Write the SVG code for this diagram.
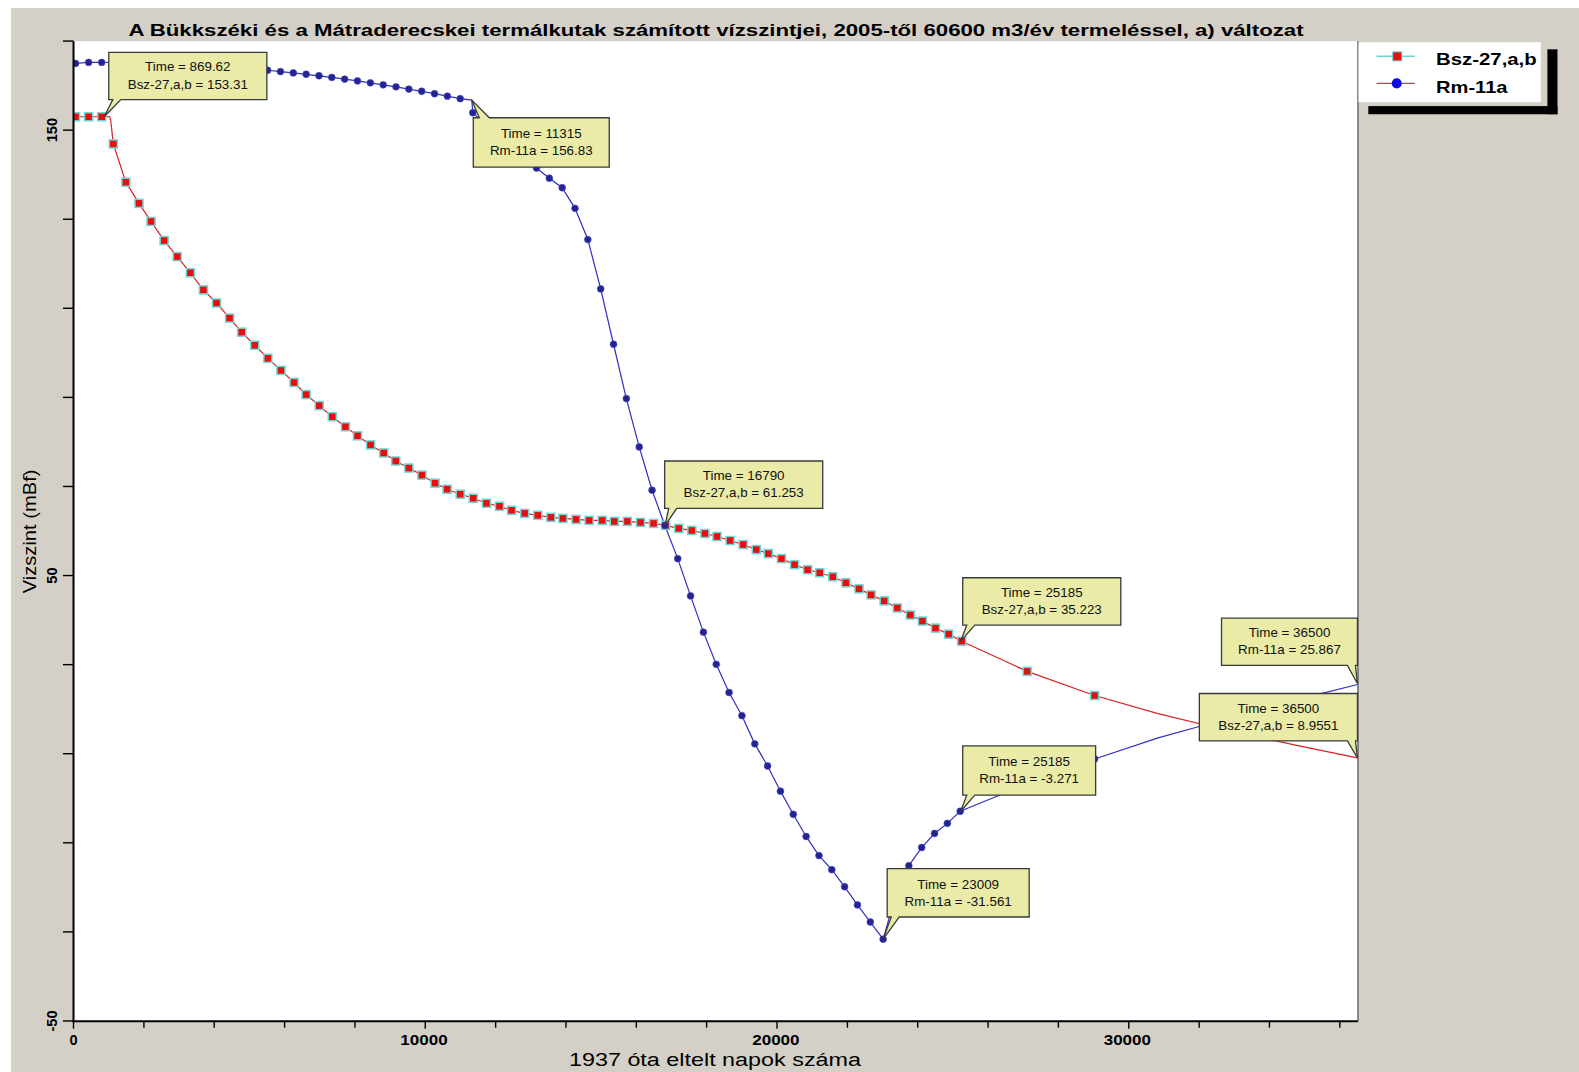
<svg xmlns="http://www.w3.org/2000/svg" width="1579" height="1072" viewBox="0 0 1579 1072">
<style>
.ax{stroke:#000;stroke-width:2;fill:none}
.tk{stroke:#000;stroke-width:1.4}
.tl{font-family:"Liberation Sans",Arial,sans-serif;font-size:14.5px;font-weight:bold;fill:#000}
.tip{fill:#e9eba6;stroke:#3a3a3a;stroke-width:1.3}
.tt{font-family:"Liberation Sans",Arial,sans-serif;font-size:13.3px;fill:#111;text-anchor:middle}
.lg{font-family:"Liberation Sans",Arial,sans-serif;font-size:16px;font-weight:bold;fill:#000}
.red{fill:none;stroke:#d42424;stroke-width:1.2}
.blue{fill:none;stroke:#3030c0;stroke-width:1.2}
.rm{fill:none;stroke:none;marker-start:url(#sq);marker-mid:url(#sq);marker-end:url(#sq)}
.bm{fill:none;stroke:none;marker-start:url(#dot);marker-mid:url(#dot);marker-end:url(#dot)}
</style>
<defs>
<marker id="sq" markerUnits="userSpaceOnUse" markerWidth="12" markerHeight="12" refX="6" refY="6" overflow="visible">
<rect x="2" y="2" width="8" height="8" fill="#e60f0f" stroke="#72d6d6" stroke-width="1.5"/>
</marker>
<marker id="dot" markerUnits="userSpaceOnUse" markerWidth="10" markerHeight="10" refX="5" refY="5" overflow="visible">
<circle cx="5" cy="5" r="3.4" fill="#24248f" stroke="#4a4ad0" stroke-width="0.6"/>
</marker>
<clipPath id="plotclip"><rect x="73" y="41" width="1275.5" height="973.5"/></clipPath>
</defs>
<rect x="0" y="0" width="1579" height="1072" fill="#ffffff"/>
<g transform="scale(1.00702 1.00657)">
<rect x="11" y="8" width="1570" height="1070" fill="#d4d0c8"/>
<rect id="plot-area" x="73" y="41" width="1275.5" height="973.5" fill="#ffffff"/>
<text x="711" y="36" text-anchor="middle" font-family="'Liberation Sans',Arial,sans-serif" font-size="17" font-weight="bold" textLength="1167" lengthAdjust="spacingAndGlyphs">A Bükkszéki és a Mátraderecskei termálkutak számított vízszintjei, 2005-től 60600 m3/év termeléssel, a) változat</text>

<g id="series" clip-path="url(#plotclip)">
<polyline id="bsz-line" class="red" points="73,116 75,116 88,116 101,116 109,116 110,120 112.5,143 125,181 138,202 150,220 163,239 176,255 189,271 202,288 215,301 228,316 240,330 253,343 266,356 279,368 292,380 304,392 317,403 330,414 343,424 355,433 368,442 381,450 393,458 406,465 419,472 432,480 444,486 457,491 470,495 483,500 496,503 508,507 521,510 534,512 547,514 559,515 572,516 585,517 598,517 610,518 623,518 636,519 649,520 661,522 674,525 687,527 700,530 712,533 725,537 738,541 751,546 763,550 776,555 789,561 802,566 814,569 827,573 840,579 853,585 865,591 878,597 891,604 904,611 916,617 929,624 942,630 955,637 1020,667 1087,691 1150,709 1220,726 1290,741 1348,753"/>
<polyline id="rm-line" class="blue" points="73,63 75,63 88,62 101,62 114,62.1 127,62.2 140,62.5 152,62.8 165,63.2 178,63.7 190,64.4 203,65.1 216,65.8 228,66.7 241,67.7 254,68.8 265.75,69.8 278.5,71.1 291.25,72.4 304,73.8 316.75,75.3 329.5,76.9 342.25,78.6 355,80.4 367.75,82.3 380.5,84.3 393.25,86.3 406,88.5 418.75,90.7 431.5,93.1 444.25,95.5 457,98 468.5,99.5 469.5,112 481.75,123 494.5,134 507.25,145 520,156 532.75,167 545.5,177 558.25,186.5 571,207 583.75,238 596.5,287 609.25,342 622,396 634.75,444 647.5,487 660.25,522 673,555 685.75,592 698.5,628 711.25,660 724,688 736.75,711 749.5,739 762.25,761 775,786 787.75,809 800.5,831 813.25,850 826,864 838.75,881 851.5,899 864.25,916 877,933 889.75,888 902.5,860 915.25,842 928,828 940.75,818 953.5,806 990,791 1020,780 1087,754 1150,733 1190,722 1250,705 1300,692 1348,680"/>
<polyline id="bsz-markers" class="rm" points="75,116 88,116 101,116 112.5,143 125,181 138,202 150,220 163,239 176,255 189,271 202,288 215,301 228,316 240,330 253,343 266,356 279,368 292,380 304,392 317,403 330,414 343,424 355,433 368,442 381,450 393,458 406,465 419,472 432,480 444,486 457,491 470,495 483,500 496,503 508,507 521,510 534,512 547,514 559,515 572,516 585,517 598,517 610,518 623,518 636,519 649,520 661,522 674,525 687,527 700,530 712,533 725,537 738,541 751,546 763,550 776,555 789,561 802,566 814,569 827,573 840,579 853,585 865,591 878,597 891,604 904,611 916,617 929,624 942,630 955,637 1020,667 1087,691"/>
<polyline id="rm-markers" class="bm" points="75,63 88,62 101,62 114,62.1 127,62.2 140,62.5 152,62.8 165,63.2 178,63.7 190,64.4 203,65.1 216,65.8 228,66.7 241,67.7 254,68.8 265.75,69.8 278.5,71.1 291.25,72.4 304,73.8 316.75,75.3 329.5,76.9 342.25,78.6 355,80.4 367.75,82.3 380.5,84.3 393.25,86.3 406,88.5 418.75,90.7 431.5,93.1 444.25,95.5 457,98 469.5,112 481.75,123 494.5,134 507.25,145 520,156 532.75,167 545.5,177 558.25,186.5 571,207 583.75,238 596.5,287 609.25,342 622,396 634.75,444 647.5,487 660.25,522 673,555 685.75,592 698.5,628 711.25,660 724,688 736.75,711 749.5,739 762.25,761 775,786 787.75,809 800.5,831 813.25,850 826,864 838.75,881 851.5,899 864.25,916 877,933 889.75,888 902.5,860 915.25,842 928,828 940.75,818 953.5,806 1020,780 1087,754"/>
</g>

<g id="axes">
<line class="ax" x1="73" y1="41" x2="73" y2="1015.5"/>
<line class="ax" x1="72" y1="1014.5" x2="1348.5" y2="1014.5"/>
<line x1="1348.5" y1="41" x2="1348.5" y2="1015" stroke="#4a4a4a" stroke-width="1.2"/>
<g id="y-ticks">
<line class="tk" x1="62.5" y1="40.8" x2="73" y2="40.8"/>
<line class="tk" x1="62.5" y1="129.3" x2="73" y2="129.3"/>
<line class="tk" x1="62.5" y1="217.8" x2="73" y2="217.8"/>
<line class="tk" x1="62.5" y1="306.3" x2="73" y2="306.3"/>
<line class="tk" x1="62.5" y1="394.8" x2="73" y2="394.8"/>
<line class="tk" x1="62.5" y1="483.3" x2="73" y2="483.3"/>
<line class="tk" x1="62.5" y1="571.8" x2="73" y2="571.8"/>
<line class="tk" x1="62.5" y1="660.3" x2="73" y2="660.3"/>
<line class="tk" x1="62.5" y1="748.8" x2="73" y2="748.8"/>
<line class="tk" x1="62.5" y1="837.3" x2="73" y2="837.3"/>
<line class="tk" x1="62.5" y1="925.8" x2="73" y2="925.8"/>
<line class="tk" x1="62.5" y1="1014.3" x2="73" y2="1014.3"/>
</g>
<g id="x-ticks">
<line class="tk" x1="73" y1="1014.5" x2="73" y2="1022"/>
<line class="tk" x1="142.9" y1="1014.5" x2="142.9" y2="1021"/>
<line class="tk" x1="212.7" y1="1014.5" x2="212.7" y2="1021"/>
<line class="tk" x1="282.6" y1="1014.5" x2="282.6" y2="1021"/>
<line class="tk" x1="352.5" y1="1014.5" x2="352.5" y2="1021"/>
<line class="tk" x1="422.3" y1="1014.5" x2="422.3" y2="1022"/>
<line class="tk" x1="492.2" y1="1014.5" x2="492.2" y2="1021"/>
<line class="tk" x1="562" y1="1014.5" x2="562" y2="1021"/>
<line class="tk" x1="631.9" y1="1014.5" x2="631.9" y2="1021"/>
<line class="tk" x1="701.7" y1="1014.5" x2="701.7" y2="1021"/>
<line class="tk" x1="771.6" y1="1014.5" x2="771.6" y2="1022"/>
<line class="tk" x1="841.5" y1="1014.5" x2="841.5" y2="1021"/>
<line class="tk" x1="911.3" y1="1014.5" x2="911.3" y2="1021"/>
<line class="tk" x1="981.2" y1="1014.5" x2="981.2" y2="1021"/>
<line class="tk" x1="1051" y1="1014.5" x2="1051" y2="1021"/>
<line class="tk" x1="1120.9" y1="1014.5" x2="1120.9" y2="1022"/>
<line class="tk" x1="1190.8" y1="1014.5" x2="1190.8" y2="1021"/>
<line class="tk" x1="1260.6" y1="1014.5" x2="1260.6" y2="1021"/>
<line class="tk" x1="1330.5" y1="1014.5" x2="1330.5" y2="1021"/>
</g>
<text class="tl" transform="translate(56.5,129.3) rotate(-90)" text-anchor="middle">150</text>
<text class="tl" transform="translate(56.5,571.8) rotate(-90)" text-anchor="middle">50</text>
<text class="tl" transform="translate(56.5,1014.3) rotate(-90)" text-anchor="middle">-50</text>
<text class="tl" x="73" y="1038" text-anchor="middle">0</text>
<text class="tl" x="421" y="1038" text-anchor="middle" textLength="47" lengthAdjust="spacingAndGlyphs">10000</text>
<text class="tl" x="770.5" y="1038" text-anchor="middle" textLength="47" lengthAdjust="spacingAndGlyphs">20000</text>
<text class="tl" x="1119.5" y="1038" text-anchor="middle" textLength="47" lengthAdjust="spacingAndGlyphs">30000</text>
<text transform="translate(36,528) rotate(-90)" text-anchor="middle" font-family="'Liberation Sans',Arial,sans-serif" font-size="18" fill="#000" textLength="123" lengthAdjust="spacingAndGlyphs">Vizszint (mBf)</text>
<text x="710" y="1059" text-anchor="middle" font-family="'Liberation Sans',Arial,sans-serif" font-size="19" fill="#000" textLength="290" lengthAdjust="spacingAndGlyphs">1937 óta eltelt napok száma</text>
</g>

<g id="tooltips">
<g id="tip-1">
<path class="tip" d="M108,52 H265 V99 H120 L103.5,116 L112,99 H108 Z"/>
<text class="tt" x="186.5" y="71">Time = 869.62</text>
<text class="tt" x="186.5" y="88">Bsz-27,a,b = 153.31</text>
</g>
<g id="tip-2">
<path class="tip" d="M470,117 H476 L468.5,99.5 L486,117 H605 V166 H470 Z"/>
<text class="tt" x="537.5" y="137">Time = 11315</text>
<text class="tt" x="537.5" y="154">Rm-11a = 156.83</text>
</g>
<g id="tip-3">
<path class="tip" d="M660,458 H817 V505 H672 L660.5,522 L664,505 H660 Z"/>
<text class="tt" x="738.5" y="477">Time = 16790</text>
<text class="tt" x="738.5" y="494">Bsz-27,a,b = 61.253</text>
</g>
<g id="tip-4">
<path class="tip" d="M956,574 H1113 V621 H968 L954,637 L960,621 H956 Z"/>
<text class="tt" x="1034.5" y="593">Time = 25185</text>
<text class="tt" x="1034.5" y="610">Bsz-27,a,b = 35.223</text>
</g>
<g id="tip-5">
<path class="tip" d="M1213,614 H1348 V661 H1346 L1348,679 L1338,661 H1213 Z"/>
<text class="tt" x="1280.5" y="633">Time = 36500</text>
<text class="tt" x="1280.5" y="650">Rm-11a = 25.867</text>
</g>
<g id="tip-6">
<path class="tip" d="M1191,689 H1348 V736 H1346 L1348,753 L1338,736 H1191 Z"/>
<text class="tt" x="1269.5" y="708">Time = 36500</text>
<text class="tt" x="1269.5" y="725">Bsz-27,a,b = 8.9551</text>
</g>
<g id="tip-7">
<path class="tip" d="M956,741 H1088 V790 H968 L954,806 L960,790 H956 Z"/>
<text class="tt" x="1022" y="761">Time = 25185</text>
<text class="tt" x="1022" y="778">Rm-11a = -3.271</text>
</g>
<g id="tip-8">
<path class="tip" d="M881,863 H1022 V911 H893 L877,933 L885,911 H881 Z"/>
<text class="tt" x="951.5" y="883">Time = 23009</text>
<text class="tt" x="951.5" y="900">Rm-11a = -31.561</text>
</g>
</g>

<g id="legend">
<rect x="1536.6" y="49" width="10" height="64.5" fill="#000"/>
<rect x="1358.8" y="105.4" width="187.8" height="8.1" fill="#000"/>
<rect x="1349" y="42" width="181" height="59.5" fill="#ffffff"/>
<line x1="1367" y1="56" x2="1405" y2="56" stroke="#66d8d8" stroke-width="1.5"/>
<rect x="1383" y="51.5" width="9" height="9" fill="#e60f0f" stroke="#72d6d6" stroke-width="1"/>
<text class="lg" x="1426" y="65" textLength="100" lengthAdjust="spacingAndGlyphs">Bsz-27,a,b</text>
<line x1="1367" y1="82.8" x2="1405" y2="82.8" stroke="#a05050" stroke-width="1.2"/>
<circle cx="1387" cy="82.8" r="5" fill="#0a0ae0"/>
<text class="lg" x="1426" y="92.5" textLength="71" lengthAdjust="spacingAndGlyphs">Rm-11a</text>
</g>
</g>
</svg>
